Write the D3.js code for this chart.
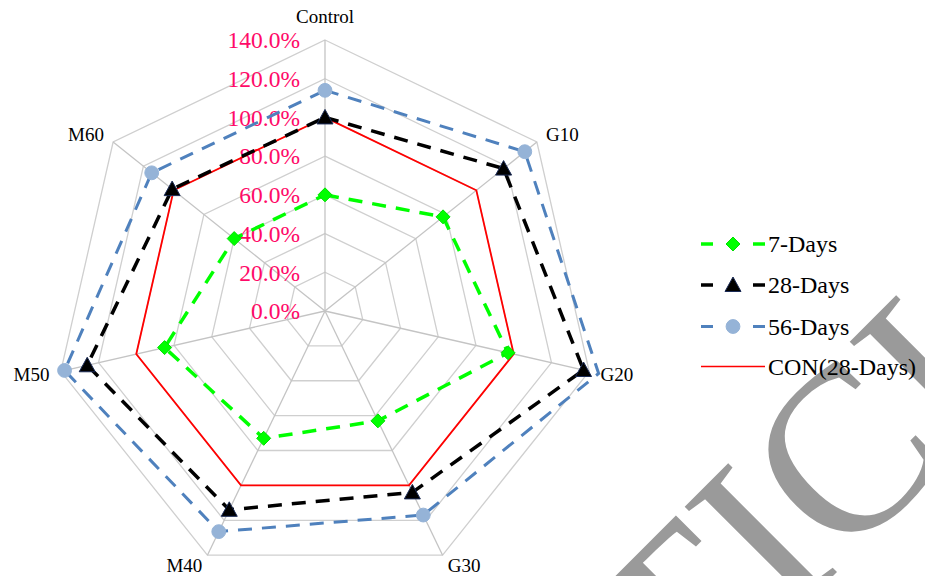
<!DOCTYPE html>
<html>
<head>
<meta charset="utf-8">
<script src="https://cdn.jsdelivr.net/npm/d3@7"></script>
<style>
  html, body { margin: 0; padding: 0; background: #fff; }
  svg { display: block; }
</style>
</head>
<body>
<svg id="chart" width="925" height="576"></svg>
<script>
// Compressive strength ratio by mix, relative to the control at 28 days
const categories = ["Control", "G10", "G20", "G30", "M40", "M50", "M60"];
const days7 = [60, 78, 97, 63, 73, 85, 60];
const days28 = [100, 118, 137, 104, 114, 126, 101];
const days56 = [114, 132, 145, 117, 126.5, 138, 114.5];
const con28 = [100, 100, 100, 100, 100, 100, 100];
const tickValues = [0, 20, 40, 60, 80, 100, 120, 140];
const tickLabels = ["0.0%", "20.0%", "40.0%", "60.0%", "80.0%", "100.0%", "120.0%", "140.0%"];
const seriesNames = ["7-Days", "28-Days", "56-Days", "CON(28-Days)"];

const svg = d3.select("#chart");
const cx = 325, cy = 311, R = 271;
const serif = "'Liberation Serif', 'Times New Roman', serif";
const axisMax = 140;

const r = d3.scaleLinear().domain([0, axisMax]).range([0, R]);
const angle = d3.scaleLinear().domain([0, categories.length]).range([0, 2 * Math.PI]);

// watermark, behind everything else
svg.append("text")
  .attr("transform", "translate(811,598) rotate(-45)")
  .attr("text-anchor", "middle")
  .attr("font-family", serif)
  .attr("font-size", 235)
  .attr("fill", "#9a9a9a")
  .text("ARTICLE");

const g = svg.append("g").attr("transform", `translate(${cx},${cy})`);

const ring = d3.lineRadial()
  .angle((d, i) => angle(i))
  .radius(d => r(d))
  .curve(d3.curveLinearClosed);

// grid rings
g.append("g").selectAll("path")
  .data(tickValues.filter(v => v > 0))
  .join("path")
  .attr("d", v => ring(categories.map(() => v)))
  .attr("fill", "none")
  .attr("stroke", "#cfcfcf")
  .attr("stroke-width", 1.3);

// spokes
g.append("g").selectAll("line")
  .data(categories)
  .join("line")
  .attr("x1", 0).attr("y1", 0)
  .attr("x2", (d, i) => r(axisMax) * Math.sin(angle(i)))
  .attr("y2", (d, i) => -r(axisMax) * Math.cos(angle(i)))
  .attr("stroke", "#c4c4c4")
  .attr("stroke-width", 1.3);

// value axis labels along the top spoke
g.append("g").selectAll("text")
  .data(tickValues)
  .join("text")
  .attr("x", -25)
  .attr("y", v => -r(v))
  .attr("dy", "0.35em")
  .attr("text-anchor", "end")
  .attr("font-family", serif)
  .attr("font-size", 23.5)
  .attr("fill", "#ff0a68")
  .text((v, i) => tickLabels[i]);

// series styles
const styles = [
  { values: days7, color: "#00ff00", width: 3.5, dash: "14,10", marker: "diamond", mfill: "#00ff00", mstroke: "#00e000" },
  { values: days28, color: "#000000", width: 3.5, dash: "14,10", marker: "triangle", mfill: "#000000", mstroke: "#1a2a55" },
  { values: days56, color: "#4f81bd", width: 3, dash: "14,10", marker: "circle", mfill: "#95b3d7", mstroke: "#95b3d7" },
  { values: con28, color: "#ff0000", width: 1.8, dash: null, marker: null }
];

function markerPath(type) {
  if (type === "diamond") return "M0,-7L7,0L0,7L-7,0Z";
  if (type === "triangle") return "M0,-8L8,6.5L-8,6.5Z";
  if (type === "circle") return d3.symbol(d3.symbolCircle, 150)();
  return null;
}

const seriesG = g.append("g");
[3, 0, 1, 2].forEach(k => {
  const s = styles[k];
  seriesG.append("path")
    .attr("d", ring(s.values))
    .attr("fill", "none")
    .attr("stroke", s.color)
    .attr("stroke-width", s.width)
    .attr("stroke-dasharray", s.dash)
    .attr("stroke-linejoin", "miter");
});
// markers are only drawn for values inside the axis range
[0, 1, 2].forEach(k => {
  const s = styles[k];
  const pts = s.values.map((v, i) => ({ v, i })).filter(p => p.v <= axisMax);
  seriesG.append("g").selectAll("path")
    .data(pts)
    .join("path")
    .attr("transform", p => `translate(${r(p.v) * Math.sin(angle(p.i))},${-r(p.v) * Math.cos(angle(p.i))})`)
    .attr("d", markerPath(s.marker))
    .attr("fill", s.mfill)
    .attr("stroke", s.mstroke)
    .attr("stroke-width", 1);
});

// category labels around the outer ring
g.append("g").selectAll("text")
  .data(categories)
  .join("text")
  .each(function (d, i) {
    const a = angle(i), sx = Math.sin(a), cy0 = Math.cos(a);
    const t = d3.select(this);
    const rr = R + 11.7;
    if (Math.abs(sx) < 0.01) {
      t.attr("x", 0).attr("y", -R - 17).attr("text-anchor", "middle");
    } else {
      t.attr("x", rr * sx).attr("y", -rr * cy0 + 6.7)
        .attr("text-anchor", sx > 0 ? "start" : "end");
    }
  })
  .attr("font-family", serif)
  .attr("font-size", 19)
  .attr("fill", "#000")
  .text(d => d);

// legend
const legend = svg.append("g");
const legendY = [244, 285, 326.5, 366.5];
styles.forEach((s, k) => {
  const row = legend.append("g").attr("transform", `translate(0,${legendY[k]})`);
  row.append("line")
    .attr("x1", 701).attr("x2", 765).attr("y1", 0).attr("y2", 0)
    .attr("stroke", s.color)
    .attr("stroke-width", s.dash ? s.width : 1.6)
    .attr("stroke-dasharray", s.dash ? "12,40" : null);
  if (s.marker) {
    row.append("path")
      .attr("transform", "translate(733,0)")
      .attr("d", markerPath(s.marker))
      .attr("fill", s.mfill)
      .attr("stroke", s.mstroke)
      .attr("stroke-width", 1);
  }
  row.append("text")
    .attr("x", 768).attr("y", 0).attr("dy", "0.35em")
    .attr("font-family", serif)
    .attr("font-size", 24)
    .attr("fill", "#000")
    .text(seriesNames[k]);
});
</script>
</body>
</html>
